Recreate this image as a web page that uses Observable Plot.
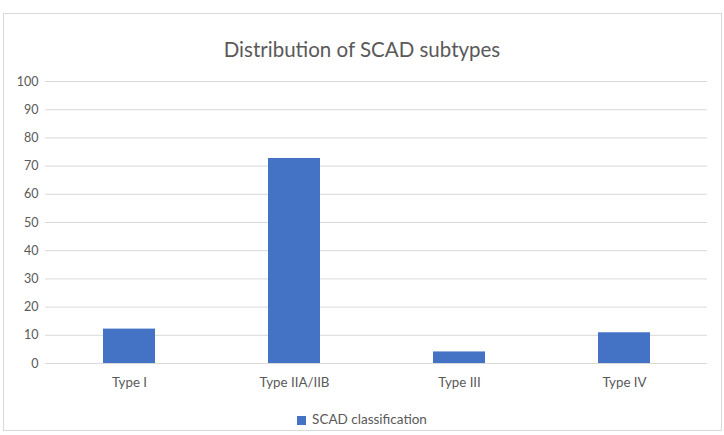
<!DOCTYPE html>
<html>
<head>
<meta charset="utf-8">
<script src="https://cdn.jsdelivr.net/npm/d3@7"></script>
<script src="https://cdn.jsdelivr.net/npm/@observablehq/plot@0.6"></script>
<style>
  html, body { margin: 0; padding: 0; background: #fff; }
  #wrap { position: relative; width: 724px; height: 435px; font-family: Lato, "Open Sans", sans-serif; }
  #frame { position: absolute; left: 3px; top: 13px; width: 717px; height: 416px; border: 1px solid #d9d9d9; box-sizing: content-box; pointer-events: none; }
  #title { position: absolute; left: 0; width: 724px; top: 37px; text-align: center; font-size: 20.5px; color: #595959; line-height: 1.2; }
  #legend { position: absolute; left: 0; width: 724px; top: 411px; text-align: center; font-size: 13.5px; color: #595959; line-height: 1.2; }
  #legend .sw { display: inline-block; width: 9px; height: 9px; background: #4472C4; margin-right: 6px; vertical-align: -1px; }
  #chart { position: absolute; left: 0; top: 0; }
</style>
</head>
<body>
<div id="wrap">
  <div id="chart"></div>
  <div id="frame"></div>
  <div id="title">Distribution of SCAD subtypes</div>
  <div id="legend"><span class="sw"></span>SCAD classification</div>
</div>
<script>
const categories = ["Type I", "Type IIA/IIB", "Type III", "Type IV"];
const values = [12.2, 72.7, 4.1, 10.9];
const yTicks = [0, 10, 20, 30, 40, 50, 60, 70, 80, 90, 100];
const seriesName = "SCAD classification";

const data = categories.map((c, i) => ({category: c, value: values[i]}));

const chart = Plot.plot({
  width: 724,
  height: 435,
  marginTop: 81,
  marginBottom: 72,
  marginLeft: 45,
  marginRight: 17,
  style: {fontFamily: "Lato, 'Open Sans', sans-serif", fontSize: "12.5px", color: "#595959", background: "transparent"},
  x: {domain: categories, paddingInner: 0.686, paddingOuter: 0.343, align: 0.5, label: null},
  y: {domain: [0, 100], ticks: yTicks, label: null},
  marks: [
    Plot.gridY(yTicks, {stroke: "#d9d9d9", strokeOpacity: 1, strokeWidth: 1}),
    Plot.barY(data, {x: "category", y: "value", fill: "#4472C4"}),
    Plot.axisY({ticks: yTicks, tickSize: 0, tickPadding: 7, label: null, fill: "#595959"}),
    Plot.axisX({tickSize: 0, tickPadding: 14, label: null, fill: "#595959", fontSize: 13.3})
  ]
});
document.getElementById("chart").appendChild(chart);
</script>
</body>
</html>
